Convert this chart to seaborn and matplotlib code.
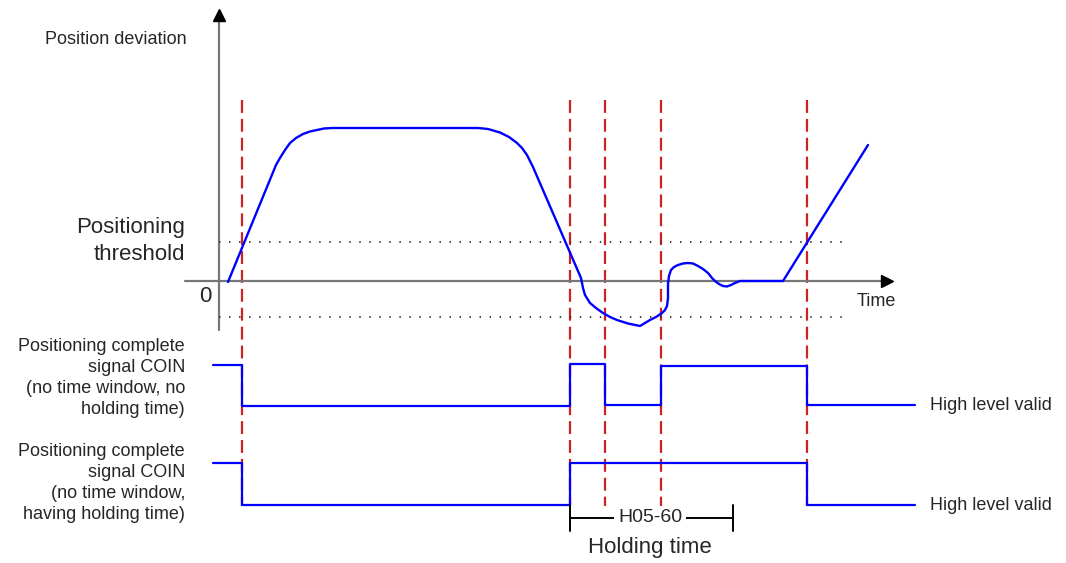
import seaborn as sns
import matplotlib.pyplot as plt
import pandas as pd

# diagram drawn in pixel-like units: x = time, y = screen row (inverted axis)
dev_t = [228, 276, 280, 285, 290, 296, 303, 310, 317, 324, 332, 478, 488, 500, 509, 517, 522, 527, 533,
         581, 583, 585, 590, 596, 603, 610, 617, 628, 640, 645, 650, 656, 662, 665, 667, 668, 668, 669,
         671, 674, 678, 683, 688, 693, 698, 703, 708, 712, 715, 719, 723, 727, 731, 735, 740, 783, 868]
dev_y = [282, 165, 158, 150, 143, 138, 134, 131.5, 130, 128.5, 128, 128, 129, 132.5, 137, 143, 148, 155, 167,
         278, 288, 295, 303, 308, 313, 317, 320, 323.5, 326, 323, 320, 317, 313, 310, 306, 298, 284, 276,
         270, 267, 265, 263.5, 263, 263.5, 266, 269, 273, 278, 281, 284, 286, 286.5, 285, 283, 281, 281, 145]

# COIN signals (step edges)
sig1_t = [213, 242, 570, 605, 661, 807, 915]
sig1_y = [365, 406, 364, 405, 366, 405, 405]
sig2_t = [213, 242, 570, 807, 915]
sig2_y = [463, 505, 463, 505, 505]

events = [242, 570, 605, 661, 807]
threshold_rows = [242, 317]
zero_row = 281
hold_start, hold_end = 570, 733

sns.set_theme(style="white")
plt.rcParams['font.family'] = ['Liberation Sans', 'DejaVu Sans']

fig = plt.figure(figsize=(10.66, 5.63), dpi=100)
ax = fig.add_axes([0, 0, 1, 1])

# axes of the diagram
ax.plot([219, 219], [330, 18], color='#777777', lw=1.6)
ax.plot([185, 884], [zero_row, zero_row], color='#777777', lw=1.6)
ax.plot([219], [15], marker='^', color='black', markersize=9)
ax.plot([887], [zero_row], marker='>', color='black', markersize=9)

# threshold dotted lines
for r in threshold_rows:
    ax.plot([219, 845], [r, r], color='#333333', lw=1.3, linestyle=(0, (0.8, 4.75)))

# event markers
for t in events:
    ax.plot([t, t], [100, 506], color='#cc2222', lw=1.6, linestyle=(0, (5.8, 2.7)), zorder=1)

dev = pd.DataFrame({'t': dev_t, 'y': dev_y})
sns.lineplot(data=dev, x='t', y='y', sort=False, estimator=None, color='blue', lw=1.7, ax=ax)
sns.lineplot(x=sig1_t, y=sig1_y, sort=False, estimator=None, drawstyle='steps-post', color='blue', lw=1.6, ax=ax)
sns.lineplot(x=sig2_t, y=sig2_y, sort=False, estimator=None, drawstyle='steps-post', color='blue', lw=1.6, ax=ax)
ax.set_xlim(0, 1066)
ax.set_ylim(563, 0)
ax.axis('off')

# holding time bracket
ax.plot([hold_start, hold_end], [518, 518], color='black', lw=1.4)
ax.plot([hold_start, hold_start], [505, 531], color='black', lw=1.4)
ax.plot([hold_end, hold_end], [505, 531], color='black', lw=1.4)
ax.text(650, 518, 'H05-60', ha='center', va='center', fontsize=14,
        bbox=dict(facecolor='white', edgecolor='none', pad=2.5))
ax.text(650, 548, 'Holding time', ha='center', va='center', fontsize=16)

# labels
ax.text(187, 40, 'Position deviation', ha='right', va='center', fontsize=13)
ax.text(185, 241, 'Positioning\nthreshold', ha='right', va='center', fontsize=16, linespacing=1.4)
ax.text(205, 297, '0', ha='center', va='center', fontsize=16)
ax.text(876, 302, 'Time', ha='center', va='center', fontsize=13)
ax.text(185, 378, 'Positioning complete\nsignal COIN\n(no time window, no\nholding time)',
        ha='right', va='center', fontsize=13, linespacing=1.33)
ax.text(185, 483, 'Positioning complete\nsignal COIN\n(no time window,\nhaving holding time)',
        ha='right', va='center', fontsize=13, linespacing=1.33)
ax.text(930, 405, 'High level valid', ha='left', va='center', fontsize=13)
ax.text(930, 505, 'High level valid', ha='left', va='center', fontsize=13)

fig.savefig('out.png', dpi=100)
